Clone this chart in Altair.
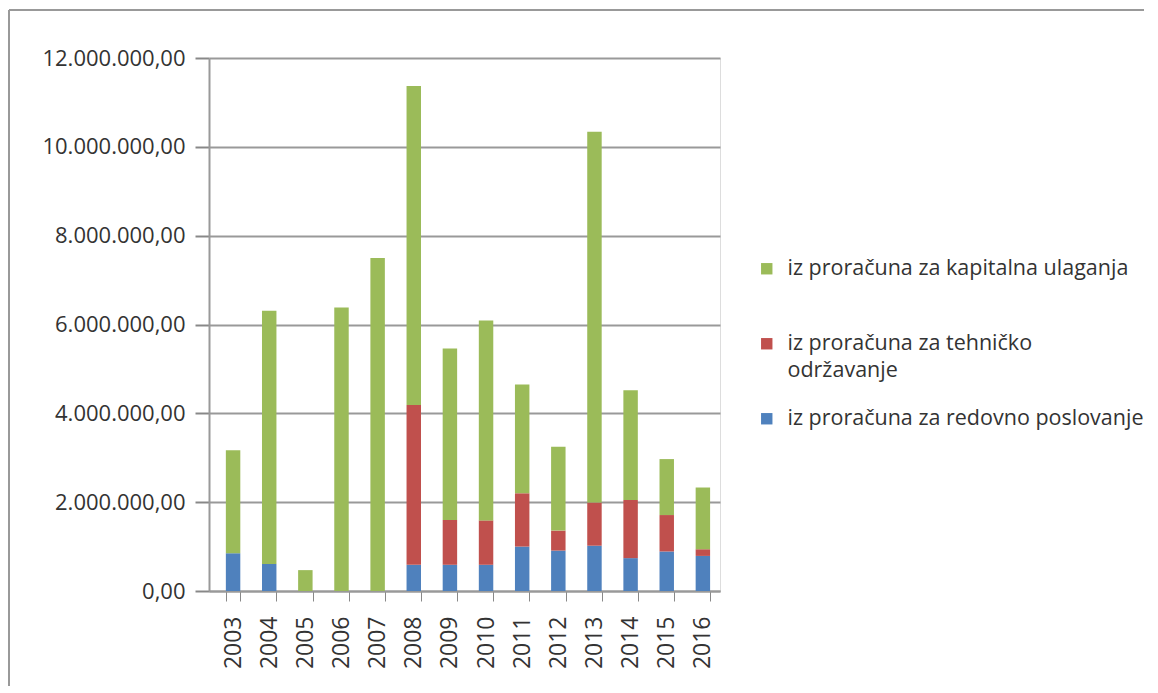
import altair as alt
import pandas as pd

years = ["2003", "2004", "2005", "2006", "2007", "2008", "2009", "2010",
         "2011", "2012", "2013", "2014", "2015", "2016"]
redovno = [850000, 610000, 0, 0, 0, 590000, 590000, 590000,
           1000000, 910000, 1020000, 740000, 890000, 790000]
tehnicko = [0, 0, 0, 0, 0, 3600000, 1010000, 1000000,
            1200000, 450000, 970000, 1310000, 820000, 150000]
kapitalna = [2320000, 5700000, 470000, 6380000, 7500000, 7180000, 3860000, 4500000,
             2450000, 1890000, 8350000, 2470000, 1260000, 1390000]

s_kap = "iz proračuna za kapitalna ulaganja"
s_teh = "iz proračuna za tehničko održavanje"
s_red = "iz proračuna za redovno poslovanje"
series = [s_kap, s_teh, s_red]
colors = ["#9BBB59", "#C0504D", "#4F81BD"]
y_ticks = [0, 2000000, 4000000, 6000000, 8000000, 10000000, 12000000]

rows = []
for i, y in enumerate(years):
    rows.append({"year": y, "series": s_red, "value": redovno[i], "ord": 0})
    rows.append({"year": y, "series": s_teh, "value": tehnicko[i], "ord": 1})
    rows.append({"year": y, "series": s_kap, "value": kapitalna[i], "ord": 2})
df = pd.DataFrame(rows)

FONT = "Open Sans"

bars = alt.Chart(df).mark_bar().encode(
    x=alt.X("year:N", sort=years, title=None,
            scale=alt.Scale(paddingInner=0.6, paddingOuter=0.37, align=0.63),
            axis=alt.Axis(labelAngle=270, labelFontSize=23, labelFont=FONT,
                          labelColor="#333333", tickBand="extent", tickSize=10,
                          tickColor="#888888", domainColor="#999999",
                          domainWidth=2, labelPadding=15, labelAlign="right",
                          labelBaseline="middle")),
    y=alt.Y("value:Q", stack="zero", title=None,
            scale=alt.Scale(domain=[0, 12000000]),
            axis=alt.Axis(values=y_ticks, format=",.2f", labelFontSize=22,
                          labelFont=FONT, labelColor="#333333",
                          gridColor="#999999", gridWidth=2, tickColor="#888888",
                          tickSize=14, tickWidth=2, domainColor="#999999",
                          domainWidth=2, labelPadding=10)),
    color=alt.Color("series:N", sort=series,
                    scale=alt.Scale(domain=series, range=colors),
                    legend=alt.Legend(title=None, orient="none", legendX=547,
                                      legendY=200, symbolType="square",
                                      symbolSize=130, labelFontSize=21.5,
                                      labelFont=FONT, labelColor="#333333",
                                      labelLimit=500, rowPadding=25,
                                      symbolStrokeWidth=0, labelOffset=10,
                                      labelExpr="datum.label == 'iz proračuna za tehničko održavanje' ? ['iz proračuna za tehničko', 'održavanje'] : [datum.label, '']")),
    order=alt.Order("ord:Q"),
)

border = alt.Chart(df).mark_rule(color="#999999", strokeWidth=2).encode(
    x=alt.value(-200), x2=alt.value(-200), y=alt.value(-48), y2=alt.value(628)
) + alt.Chart(df).mark_rule(color="#999999", strokeWidth=2).encode(
    x=alt.value(-200), x2=alt.value(935), y=alt.value(-48), y2=alt.value(-48)
)

chart = alt.layer(border, bars).properties(
    width=511, height=533, padding={"left": 0, "top": 1, "right": 0, "bottom": 0}
).configure_view(stroke=None).configure(
    locale={"number": {"decimal": ",", "thousands": ".", "grouping": [3],
                       "currency": ["", " kn"]}},
    style={"guide-label": {"lineHeight": 27}}
)

chart.save("out.html", embed_options={"renderer": "svg", "actions": False})
